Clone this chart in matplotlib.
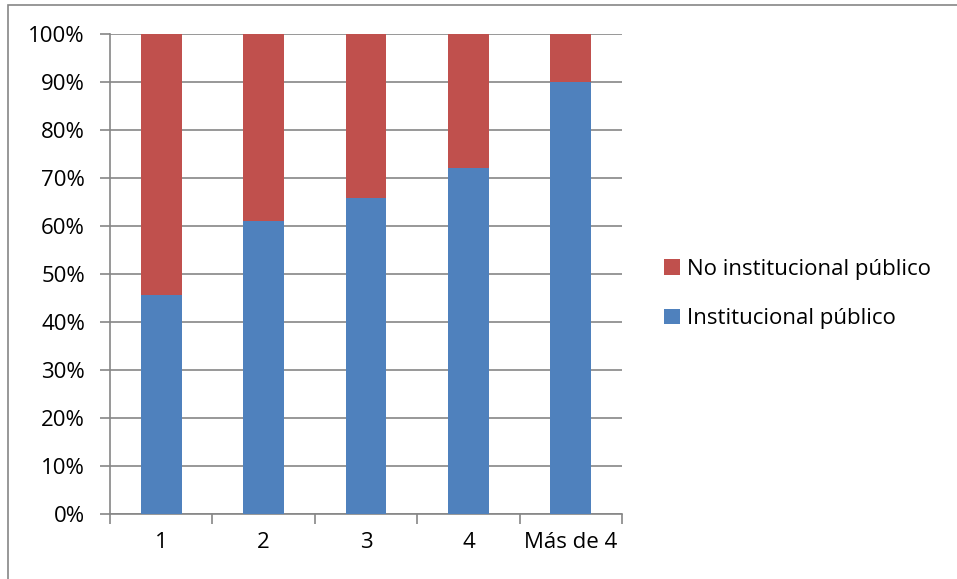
import matplotlib
matplotlib.use("Agg")
import matplotlib.pyplot as plt
from matplotlib.patches import Rectangle
from matplotlib.ticker import PercentFormatter

categories = ["1", "2", "3", "4", "Más de 4"]
institucional = [45.7, 61.0, 65.9, 72.1, 89.9]
no_institucional = [100 - v for v in institucional]
series_labels = ["No institucional público", "Institucional público"]
colors = {"inst": "#4F81BD", "noinst": "#C0504D"}

plt.rcParams["font.family"] = ["Open Sans", "DejaVu Sans"]
FS = 16

W, H = 957, 579
fig = plt.figure(figsize=(W / 100, H / 100), dpi=100)

# chart frame (left and top edges visible)
fig.patches.append(Rectangle((8 / W, -0.1), 1.2, (H - 5) / H + 0.1,
                             transform=fig.transFigure, fill=False,
                             edgecolor="#868686", linewidth=1.2))

left, right, top, bottom = 110, 622, 34, 514
ax = fig.add_axes([left / W, 1 - bottom / H, (right - left) / W, (bottom - top) / H])

x = list(range(len(categories)))
b1 = ax.bar(x, institucional, width=0.4, color=colors["inst"], zorder=3,
            label=series_labels[1])
b2 = ax.bar(x, no_institucional, width=0.4, bottom=institucional,
            color=colors["noinst"], zorder=3, label=series_labels[0])

ax.set_xlim(-0.5, len(categories) - 0.5)
ax.set_ylim(0, 100)
ax.set_yticks(range(0, 101, 10))
ax.yaxis.set_major_formatter(PercentFormatter(decimals=0))
ax.grid(axis="y", color="#868686", linewidth=1.2, zorder=0)

ax.set_xticks(x)
ax.set_xticklabels(categories)
ax.set_xticks([i + 0.5 for i in range(-1, len(categories))], minor=True)
ax.tick_params(axis="x", which="major", length=0, pad=13, labelsize=FS)
ax.tick_params(axis="x", which="minor", length=7, width=1.2, color="#868686")
ax.tick_params(axis="y", length=7, width=1.2, color="#868686", labelsize=FS, pad=11)

for s in ["top", "right"]:
    ax.spines[s].set_visible(False)
for s in ["left", "bottom"]:
    ax.spines[s].set_color("#868686")
    ax.spines[s].set_linewidth(1.2)

leg = fig.legend(handles=[b2, b1], labels=series_labels,
                 loc="center left", bbox_to_anchor=(664 / W, 1 - 294 / H),
                 frameon=False, fontsize=FS, handlelength=0.7, handleheight=0.7,
                 handletextpad=0.35, labelspacing=1.3, borderaxespad=0,
                 borderpad=0)

fig.savefig("out.png", dpi=100)
